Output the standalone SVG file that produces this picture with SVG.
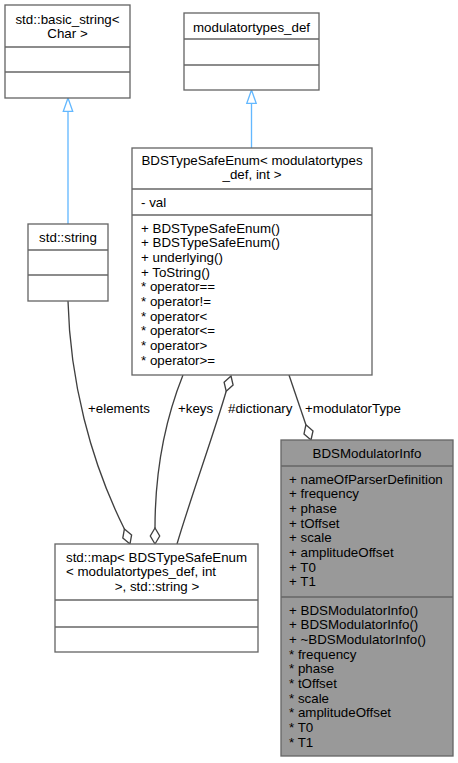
<svg xmlns="http://www.w3.org/2000/svg" width="458" height="763" viewBox="0 0 458 763">
<style>
  .box { fill: #ffffff; stroke: #666666; stroke-width: 1.33; }
  .focus { fill: #999999; stroke: #666666; stroke-width: 1.33; }
  .sep { stroke: #666666; stroke-width: 1.33; }
  text { font-family: "Liberation Sans", Arial, Helvetica, sans-serif; font-size: 13.33px; fill: #000000; }
  .c { text-anchor: middle; }
  .inh { stroke: #63b8ff; stroke-width: 1.33; fill: none; }
  .inhHead { stroke: #63b8ff; stroke-width: 1.33; fill: #ffffff; }
  .agg { stroke: #404040; stroke-width: 1.33; fill: none; }
  .aggHead { stroke: #404040; stroke-width: 1.33; fill: #ffffff; }
</style>
<rect width="458" height="763" fill="#ffffff"/>

<g id="connectors">
  <!-- inheritance std::string -> std::basic_string -->
  <path class="inh" d="M68,224 L68,111.3"/>
  <polygon class="inhHead" points="68,98 63.3,111.3 72.7,111.3"/>
  <!-- inheritance BDSTypeSafeEnum -> modulatortypes_def -->
  <path class="inh" d="M251.5,148 L251.5,103.3"/>
  <polygon class="inhHead" points="251.5,90 246.8,103.3 256.2,103.3"/>
  <!-- +elements -->
  <path class="agg" d="M68,301 C70,380 90,460 124.4,529"/>
  <polygon class="aggHead" points="130,544 131.6,534.9 124.4,529 122.8,538.1"/>
  <text x="88" y="413">+elements</text>
  <!-- +keys -->
  <path class="agg" d="M183,375 C165,420 155,470 155,528"/>
  <polygon class="aggHead" points="155,544 159.7,536 155,528 150.3,536"/>
  <text x="178" y="413">+keys</text>
  <!-- #dictionary -->
  <path class="agg" d="M177,544 C190,500 215,430 226.2,391.2"/>
  <polygon class="aggHead" points="231,376 233.1,385 226.2,391.2 224.1,382.2"/>
  <text x="228" y="413">#dictionary</text>
  <!-- +modulatorType -->
  <path class="agg" d="M289,375 L305.9,424.8"/>
  <polygon class="aggHead" points="311,440 313,430.9 305.9,424.8 304,433.9"/>
  <text x="305" y="413">+modulatorType</text>
</g>

<g id="node-basic_string">
  <rect class="box" x="5" y="5" width="125" height="93"/>
  <line class="sep" x1="5" y1="47" x2="130" y2="47"/>
  <line class="sep" x1="5" y1="72" x2="130" y2="72"/>
  <text class="c" x="67.5" y="23.5">std::basic_string&lt;</text>
  <text class="c" x="67.5" y="38.2">Char &gt;</text>
</g>

<g id="node-modulatortypes_def">
  <rect class="box" x="184" y="13" width="135" height="77"/>
  <line class="sep" x1="184" y1="39" x2="319" y2="39"/>
  <line class="sep" x1="184" y1="65" x2="319" y2="65"/>
  <text class="c" x="251.5" y="31.5">modulatortypes_def</text>
</g>

<g id="node-std_string">
  <rect class="box" x="28" y="224" width="80" height="77"/>
  <line class="sep" x1="28" y1="250" x2="108" y2="250"/>
  <line class="sep" x1="28" y1="275" x2="108" y2="275"/>
  <text class="c" x="68" y="241.5">std::string</text>
</g>

<g id="node-BDSTypeSafeEnum">
  <rect class="box" x="132" y="148" width="240" height="227"/>
  <line class="sep" x1="132" y1="189" x2="372" y2="189"/>
  <line class="sep" x1="132" y1="215" x2="372" y2="215"/>
  <text class="c" x="252" y="164.5">BDSTypeSafeEnum&lt; modulatortypes</text>
  <text class="c" x="252" y="179.2">_def, int &gt;</text>
  <text x="141" y="206.5">- val</text>
  <text x="141" y="232.5">+ BDSTypeSafeEnum()</text>
  <text x="141" y="247.2">+ BDSTypeSafeEnum()</text>
  <text x="141" y="261.8">+ underlying()</text>
  <text x="141" y="276.5">+ ToString()</text>
  <text x="141" y="291.2">* operator==</text>
  <text x="141" y="305.8">* operator!=</text>
  <text x="141" y="320.5">* operator&lt;</text>
  <text x="141" y="335.2">* operator&lt;=</text>
  <text x="141" y="349.9">* operator&gt;</text>
  <text x="141" y="364.5">* operator&gt;=</text>
</g>

<g id="node-std_map">
  <rect class="box" x="55" y="544" width="203" height="108"/>
  <line class="sep" x1="55" y1="600" x2="258" y2="600"/>
  <line class="sep" x1="55" y1="627" x2="258" y2="627"/>
  <text x="66" y="561.5">std::map&lt; BDSTypeSafeEnum</text>
  <text x="66" y="576.2">&lt; modulatortypes_def, int</text>
  <text class="c" x="157" y="590.8">&gt;, std::string &gt;</text>
</g>

<g id="node-BDSModulatorInfo">
  <rect class="focus" x="281" y="440" width="172" height="316"/>
  <line class="sep" x1="281" y1="466" x2="453" y2="466"/>
  <line class="sep" x1="281" y1="597" x2="453" y2="597"/>
  <text class="c" x="367" y="457.5">BDSModulatorInfo</text>
  <text x="289" y="483.5">+ nameOfParserDefinition</text>
  <text x="289" y="498.2">+ frequency</text>
  <text x="289" y="512.8">+ phase</text>
  <text x="289" y="527.5">+ tOffset</text>
  <text x="289" y="542.2">+ scale</text>
  <text x="289" y="556.8">+ amplitudeOffset</text>
  <text x="289" y="571.5">+ T0</text>
  <text x="289" y="586.2">+ T1</text>
  <text x="289" y="614.5">+ BDSModulatorInfo()</text>
  <text x="289" y="629.2">+ BDSModulatorInfo()</text>
  <text x="289" y="643.8">+ ~BDSModulatorInfo()</text>
  <text x="289" y="658.5">* frequency</text>
  <text x="289" y="673.2">* phase</text>
  <text x="289" y="687.8">* tOffset</text>
  <text x="289" y="702.5">* scale</text>
  <text x="289" y="717.2">* amplitudeOffset</text>
  <text x="289" y="731.8">* T0</text>
  <text x="289" y="746.5">* T1</text>
</g>
</svg>
